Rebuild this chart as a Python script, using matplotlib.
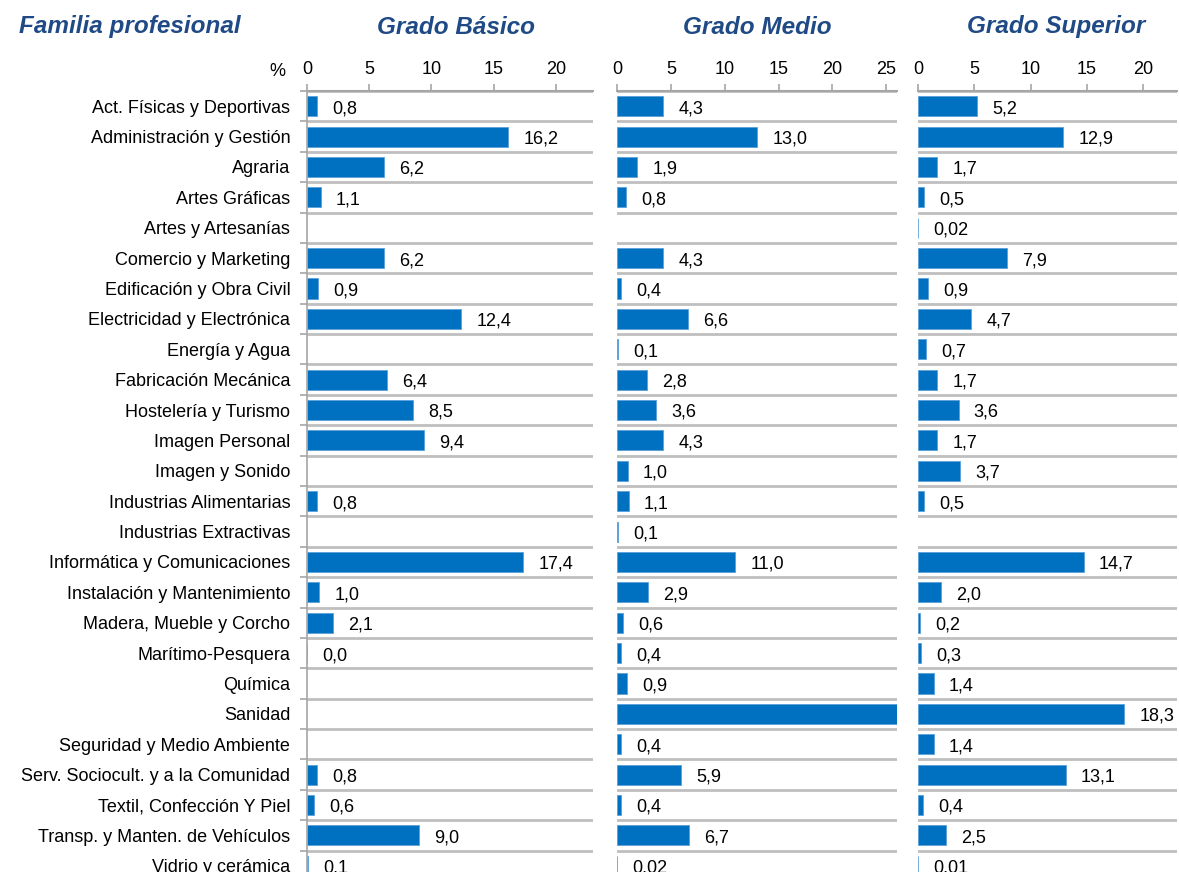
import numpy as np
import matplotlib.pyplot as plt

plt.rcParams['font.family'] = ['Liberation Sans', 'DejaVu Sans']

familias = [
    'Act. Físicas y Deportivas', 'Administración y Gestión', 'Agraria',
    'Artes Gráficas', 'Artes y Artesanías', 'Comercio y Marketing',
    'Edificación y Obra Civil', 'Electricidad y Electrónica', 'Energía y Agua',
    'Fabricación Mecánica', 'Hostelería y Turismo', 'Imagen Personal',
    'Imagen y Sonido', 'Industrias Alimentarias', 'Industrias Extractivas',
    'Informática y Comunicaciones', 'Instalación y Mantenimiento',
    'Madera, Mueble y Corcho', 'Marítimo-Pesquera', 'Química', 'Sanidad',
    'Seguridad y Medio Ambiente', 'Serv. Sociocult. y a la Comunidad',
    'Textil, Confección Y Piel', 'Transp. y Manten. de Vehículos',
    'Vidrio y cerámica',
]

# None = sin dato (ni barra ni etiqueta)
basico = [0.8, 16.2, 6.2, 1.1, None, 6.2, 0.9, 12.4, None, 6.4, 8.5, 9.4,
          None, 0.8, None, 17.4, 1.0, 2.1, 0.0, None, None, None, 0.8, 0.6,
          9.0, 0.1]
medio = [4.3, 13.0, 1.9, 0.8, None, 4.3, 0.4, 6.6, 0.1, 2.8, 3.6, 4.3,
         1.0, 1.1, 0.1, 11.0, 2.9, 0.6, 0.4, 0.9, 26.5, 0.4, 5.9, 0.4,
         6.7, 0.02]
superior = [5.2, 12.9, 1.7, 0.5, 0.02, 7.9, 0.9, 4.7, 0.7, 1.7, 3.6, 1.7,
            3.7, 0.5, None, 14.7, 2.0, 0.2, 0.3, 1.4, 18.3, 1.4, 13.1, 0.4,
            2.5, 0.01]

titulos = ['Grado Básico', 'Grado Medio', 'Grado Superior']
series = [basico, medio, superior]
xmax = [23, 26, 23]
ticks = [[0, 5, 10, 15, 20], [0, 5, 10, 15, 20, 25], [0, 5, 10, 15, 20]]

W, H = 1179, 872
azul = '#0070C0'
titulo_col = '#1F4A86'
gris = '#BFBFBF'
fs = 13


def fmt(v):
    if 0 < v < 0.1:
        return f'{v:.2f}'.replace('.', ',')
    return f'{v:.1f}'.replace('.', ',')


fig = plt.figure(figsize=(W / 100, H / 100), dpi=100)

lefts = [307, 617, 918]
rights = [593, 897, 1177]
top_px, bot_px = 91, 881
n = len(familias)
ypos = np.arange(n)

for k in range(3):
    ax = fig.add_axes([lefts[k] / W, 1 - bot_px / H,
                       (rights[k] - lefts[k]) / W, (bot_px - top_px) / H])
    vals = series[k]
    for i, v in enumerate(vals):
        if v is None:
            continue
        ax.barh(i, v, height=0.66, color=azul, edgecolor='#5AA0DA',
                linewidth=0.6)
        ax.annotate(fmt(v), (v, i + 0.08), xytext=(11, 0),
                    textcoords='offset points', va='center', ha='left',
                    fontsize=fs, annotation_clip=True)
    ax.set_xlim(0, xmax[k])
    ax.set_ylim(n - 0.5, -0.5)
    ax.xaxis.tick_top()
    ax.set_xticks(ticks[k])
    ax.tick_params(axis='x', length=5, width=1.2, color='#A6A6A6', pad=4,
                   labelsize=fs)
    # separadores de filas
    for b in np.arange(-0.5, n, 1.0):
        ax.axhline(b, color=gris, lw=2, zorder=0)
    for s in ['right', 'bottom']:
        ax.spines[s].set_visible(False)
    ax.spines['top'].set_color('#A6A6A6')
    ax.spines['top'].set_linewidth(1.5)
    if k == 0:
        ax.spines['left'].set_color('#A6A6A6')
        ax.spines['left'].set_linewidth(1.2)
        ax.set_yticks(ypos)
        ax.set_yticklabels(familias, fontsize=fs)
        ax.set_yticks(np.arange(-0.5, n, 1.0), minor=True)
        ax.tick_params(axis='y', which='major', length=0, pad=12)
        ax.tick_params(axis='y', which='minor', length=5, width=1.2,
                       color='#A6A6A6')
    else:
        ax.spines['left'].set_visible(False)
        ax.set_yticks([])
    fig.text([456, 757, 1056][k] / W, 1 - 27 / H, titulos[k], ha='center',
             va='center', fontsize=17.5, fontweight='bold', style='italic',
             color=titulo_col)

fig.text(130 / W, 1 - 27 / H, 'Familia profesional', ha='center', va='center',
         fontsize=17.5, fontweight='bold', style='italic', color=titulo_col)
fig.text(277 / W, 1 - 71 / H, '%', ha='center', va='center', fontsize=fs)

fig.savefig('out.png', dpi=100)
